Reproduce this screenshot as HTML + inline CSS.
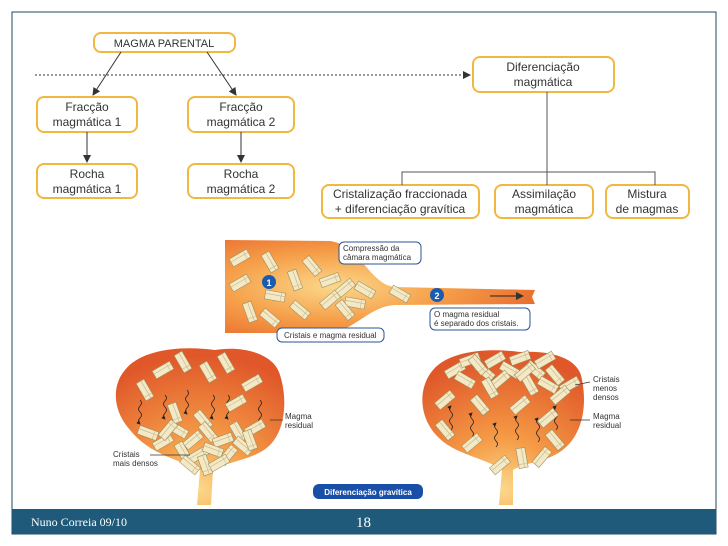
<!DOCTYPE html>
<html><head><meta charset="utf-8"><style>
body{margin:0;background:#fff;}
svg{display:block;}
text{font-family:"Liberation Sans",sans-serif;}
</style></head><body>
<svg width="728" height="546" viewBox="0 0 728 546" xmlns="http://www.w3.org/2000/svg">
<defs>
<radialGradient id="g1" cx="0.35" cy="0.5" r="0.7"><stop offset="0" stop-color="#fbd88a"/><stop offset="0.5" stop-color="#f6a04a"/><stop offset="1" stop-color="#e8692c"/></radialGradient>
<radialGradient id="g2" cx="0.5" cy="0.9" r="0.85"><stop offset="0" stop-color="#fbd88a"/><stop offset="0.4" stop-color="#f59a45"/><stop offset="1" stop-color="#e0582a"/></radialGradient>
<marker id="ah" markerWidth="8" markerHeight="8" refX="7" refY="4" orient="auto"><path d="M0,0 L8,4 L0,8 z" fill="#333"/></marker>
<marker id="sm" markerWidth="5" markerHeight="5" refX="4" refY="2.5" orient="auto"><path d="M0,0 L5,2.5 L0,5 z" fill="#222"/></marker>
<g id="cr"><rect x="-10" y="-4.5" width="20" height="9" fill="#f3e9c6" stroke="#a08d5c" stroke-width="0.6"/><line x1="-10" y1="-1" x2="10" y2="-1" stroke="#cbb98a" stroke-width="0.7"/><line x1="6" y1="-4.5" x2="6" y2="4.5" stroke="#cbb98a" stroke-width="0.6"/></g>
<path id="wd" d="M0,0 q3,3 0,6 q-3,3 0,6 q3,3 0,6 q-3,3 0,6" fill="none" stroke="#222" stroke-width="0.8" marker-end="url(#sm)"/>
<path id="wu" d="M0,0 q3,-3 0,-6 q-3,-3 0,-6 q3,-3 0,-6 q-3,-3 0,-6" fill="none" stroke="#222" stroke-width="0.8" marker-end="url(#sm)"/>
</defs>
<rect x="12" y="12" width="704" height="522" fill="#fff" stroke="#1f4a63" stroke-width="1"/>
<rect x="12" y="509" width="704" height="25" fill="#1f5a7a"/>
<text x="31" y="526" font-size="12" fill="#fff" style="font-family:'Liberation Serif',serif">Nuno Correia 09/10</text>
<text x="356" y="527" font-size="15" fill="#fff" style="font-family:'Liberation Serif',serif">18</text>

<g fill="#fff" stroke="#f0b840" stroke-width="2">
<rect x="94" y="33" width="141" height="19" rx="7"/>
<rect x="37" y="97" width="100" height="35" rx="7"/>
<rect x="188" y="97" width="106" height="35" rx="7"/>
<rect x="37" y="164" width="100" height="34" rx="7"/>
<rect x="188" y="164" width="106" height="34" rx="7"/>
<rect x="473" y="57" width="141" height="35" rx="7"/>
<rect x="322" y="185" width="157" height="33" rx="7"/>
<rect x="495" y="185" width="98" height="33" rx="7"/>
<rect x="606" y="185" width="83" height="33" rx="7"/>
</g>
<g font-size="12" fill="#333" text-anchor="middle">
<text x="164" y="47" font-size="11">MAGMA PARENTAL</text>
<text x="87" y="111">Fracção</text><text x="87" y="126">magmática 1</text>
<text x="241" y="111">Fracção</text><text x="241" y="126">magmática 2</text>
<text x="87" y="178">Rocha</text><text x="87" y="193">magmática 1</text>
<text x="241" y="178">Rocha</text><text x="241" y="193">magmática 2</text>
<text x="543" y="71">Diferenciação</text><text x="543" y="86">magmática</text>
<text x="400" y="198">Cristalização fraccionada</text><text x="400" y="213">+ diferenciação gravítica</text>
<text x="544" y="198">Assimilação</text><text x="544" y="213">magmática</text>
<text x="647" y="198">Mistura</text><text x="647" y="213">de magmas</text>
</g>
<g stroke="#333" stroke-width="1" fill="none">
<line x1="121" y1="52" x2="93" y2="95" marker-end="url(#ah)"/>
<line x1="207" y1="52" x2="236" y2="95" marker-end="url(#ah)"/>
<line x1="87" y1="132" x2="87" y2="162" marker-end="url(#ah)"/>
<line x1="241" y1="132" x2="241" y2="162" marker-end="url(#ah)"/>
<line x1="35" y1="75" x2="470" y2="75" stroke-dasharray="2,2" marker-end="url(#ah)"/>
<line x1="547" y1="92" x2="547" y2="185" stroke="#555"/>
<polyline points="402,185 402,172 655,172 655,185" stroke="#555"/>
</g>

<!-- funnel -->
<path d="M225,240 L330,241 C360,245 370,285 395,287 L535,290 L532,297 L535,304 L395,305 C370,306 355,330 330,333 L225,333 Z" fill="url(#g1)"/>
<g>
<use href="#cr" transform="translate(240,258) rotate(-30)"/><use href="#cr" transform="translate(270,262) rotate(60)"/>
<use href="#cr" transform="translate(240,283) rotate(-30)"/><use href="#cr" transform="translate(250,312) rotate(70)"/>
<use href="#cr" transform="translate(270,318) rotate(40)"/><use href="#cr" transform="translate(275,296) rotate(10)"/>
<use href="#cr" transform="translate(295,280) rotate(70)"/><use href="#cr" transform="translate(300,310) rotate(40)"/>
<use href="#cr" transform="translate(312,266) rotate(50)"/><use href="#cr" transform="translate(330,280) rotate(-20)"/>
<use href="#cr" transform="translate(345,288) rotate(-40)"/><use href="#cr" transform="translate(330,300) rotate(-40)"/>
<use href="#cr" transform="translate(355,303) rotate(10)"/><use href="#cr" transform="translate(365,290) rotate(30)"/>
<use href="#cr" transform="translate(400,294) rotate(30)"/><use href="#cr" transform="translate(345,310) rotate(50)"/>
</g>
<circle cx="269" cy="282" r="7" fill="#1a5bb0"/><text x="269" y="286" font-size="9" fill="#fff" text-anchor="middle" font-weight="bold">1</text>
<circle cx="437" cy="295" r="7" fill="#1a5bb0"/><text x="437" y="299" font-size="9" fill="#fff" text-anchor="middle" font-weight="bold">2</text>
<line x1="490" y1="296" x2="523" y2="296" stroke="#222" marker-end="url(#ah)"/>
<g fill="#fff" stroke="#2a5690" stroke-width="1">
<rect x="339" y="242" width="82" height="22" rx="5"/>
<rect x="277" y="328" width="107" height="14" rx="5"/>
<rect x="430" y="308" width="100" height="22" rx="5"/>
</g>
<g font-size="8" fill="#333">
<text x="343" y="251">Compressão da</text><text x="343" y="260">câmara magmática</text>
<text x="284" y="338">Cristais e magma residual</text>
<text x="434" y="317">O magma residual</text><text x="434" y="326">é separado dos cristais.</text>
</g>

<!-- left blob -->
<path d="M200,470 C180,460 150,455 130,430 C112,410 112,385 125,370 C140,350 180,345 215,350 C245,345 275,355 280,375 C288,400 285,430 270,445 C255,460 225,462 213,470 L211,505 L197,505 Z" fill="url(#g2)"/>
<g>
<use href="#wd" transform="translate(140,400)"/><use href="#wd" transform="translate(165,395)"/>
<use href="#wd" transform="translate(187,390)"/><use href="#wd" transform="translate(213,395)"/>
<use href="#wd" transform="translate(228,395)"/><use href="#wd" transform="translate(260,400)"/>
</g>
<g>
<use href="#cr" transform="translate(145,390) rotate(60)"/><use href="#cr" transform="translate(163,370) rotate(-30)"/>
<use href="#cr" transform="translate(183,362) rotate(60)"/><use href="#cr" transform="translate(208,372) rotate(60)"/>
<use href="#cr" transform="translate(226,363) rotate(60)"/><use href="#cr" transform="translate(252,383) rotate(-30)"/>
<use href="#cr" transform="translate(236,403) rotate(-30)"/><use href="#cr" transform="translate(175,413) rotate(70)"/>
<use href="#cr" transform="translate(203,420) rotate(50)"/>
</g>
<g>
<use href="#cr" transform="translate(148,433) rotate(20)"/><use href="#cr" transform="translate(163,442) rotate(-30)"/>
<use href="#cr" transform="translate(178,430) rotate(30)"/><use href="#cr" transform="translate(193,440) rotate(-40)"/>
<use href="#cr" transform="translate(208,432) rotate(50)"/><use href="#cr" transform="translate(223,440) rotate(-20)"/>
<use href="#cr" transform="translate(238,432) rotate(60)"/><use href="#cr" transform="translate(255,428) rotate(-30)"/>
<use href="#cr" transform="translate(183,452) rotate(60)"/><use href="#cr" transform="translate(198,455) rotate(-30)"/>
<use href="#cr" transform="translate(213,450) rotate(20)"/><use href="#cr" transform="translate(228,455) rotate(-50)"/>
<use href="#cr" transform="translate(243,446) rotate(40)"/><use href="#cr" transform="translate(205,465) rotate(70)"/>
<use href="#cr" transform="translate(219,463) rotate(-30)"/><use href="#cr" transform="translate(190,465) rotate(40)"/>
<use href="#cr" transform="translate(168,430) rotate(-50)"/><use href="#cr" transform="translate(250,440) rotate(70)"/>
</g>
<g stroke="#333" stroke-width="0.7"><line x1="270" y1="420" x2="283" y2="420"/><line x1="150" y1="455" x2="190" y2="455"/></g>
<g font-size="8" fill="#333"><text x="285" y="419">Magma</text><text x="285" y="428">residual</text>
<text x="113" y="457">Cristais</text><text x="113" y="466">mais densos</text></g>

<!-- right blob -->
<path d="M502,470 C480,455 450,455 432,430 C418,410 420,385 433,370 C450,350 490,348 520,352 C555,350 580,360 582,380 C588,410 580,435 565,448 C550,462 525,462 513,470 L513,505 L499,505 Z" fill="url(#g2)"/>
<g>
<use href="#wu" transform="translate(451,430)"/><use href="#wu" transform="translate(472,437)"/>
<use href="#wu" transform="translate(496,447)"/><use href="#wu" transform="translate(517,440)"/>
<use href="#wu" transform="translate(538,442)"/><use href="#wu" transform="translate(556,430)"/>
</g>
<g>
<use href="#cr" transform="translate(455,370) rotate(-30)"/><use href="#cr" transform="translate(470,360) rotate(-20)"/>
<use href="#cr" transform="translate(485,372) rotate(40)"/><use href="#cr" transform="translate(495,360) rotate(-30)"/>
<use href="#cr" transform="translate(510,370) rotate(30)"/><use href="#cr" transform="translate(520,358) rotate(-20)"/>
<use href="#cr" transform="translate(535,370) rotate(40)"/><use href="#cr" transform="translate(545,360) rotate(-30)"/>
<use href="#cr" transform="translate(555,375) rotate(50)"/><use href="#cr" transform="translate(570,385) rotate(-30)"/>
<use href="#cr" transform="translate(465,380) rotate(30)"/><use href="#cr" transform="translate(500,380) rotate(-40)"/>
<use href="#cr" transform="translate(530,385) rotate(60)"/><use href="#cr" transform="translate(560,395) rotate(-40)"/>
<use href="#cr" transform="translate(478,365) rotate(50)"/><use href="#cr" transform="translate(525,372) rotate(-40)"/>
<use href="#cr" transform="translate(548,385) rotate(30)"/><use href="#cr" transform="translate(490,388) rotate(60)"/>
<use href="#cr" transform="translate(445,400) rotate(-40)"/><use href="#cr" transform="translate(480,405) rotate(50)"/>
<use href="#cr" transform="translate(520,405) rotate(-40)"/><use href="#cr" transform="translate(548,418) rotate(-40)"/>
<use href="#cr" transform="translate(445,430) rotate(50)"/><use href="#cr" transform="translate(472,443) rotate(-40)"/>
<use href="#cr" transform="translate(555,440) rotate(50)"/><use href="#cr" transform="translate(500,465) rotate(-40)"/>
<use href="#cr" transform="translate(522,458) rotate(80)"/><use href="#cr" transform="translate(542,457) rotate(-50)"/>
</g>
<g stroke="#333" stroke-width="0.7"><line x1="575" y1="385" x2="590" y2="382"/><line x1="570" y1="420" x2="590" y2="420"/></g>
<g font-size="8" fill="#333"><text x="593" y="382">Cristais</text><text x="593" y="391">menos</text><text x="593" y="400">densos</text>
<text x="593" y="419">Magma</text><text x="593" y="428">residual</text></g>

<rect x="313" y="484" width="110" height="15" rx="6" fill="#1a4fa8"/>
<text x="368" y="495" font-size="8" fill="#fff" text-anchor="middle" font-weight="bold">Diferenciação gravítica</text>
</svg>
</body></html>
